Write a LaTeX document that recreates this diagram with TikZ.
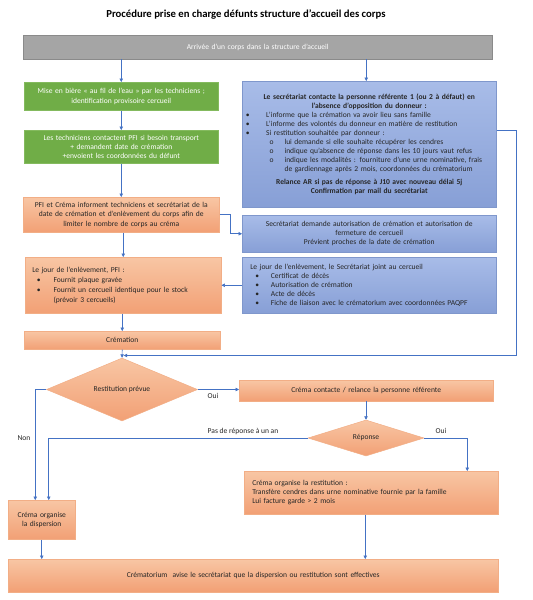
\documentclass[tikz,border=0pt]{standalone}
\usepackage{fontspec}
\setmainfont{Carlito}
\usetikzlibrary{arrows.meta,shapes.geometric,calc}
\definecolor{arrc}{HTML}{4472C4}
\definecolor{grayf}{HTML}{A5A5A5}
\definecolor{grayd}{HTML}{8A8A8A}
\definecolor{greenf}{HTML}{70AD47}
\definecolor{greend}{HTML}{84BA5E}
\definecolor{bluet}{HTML}{A8BCE8}
\definecolor{blueb}{HTML}{879FD6}
\definecolor{blued}{HTML}{7F97CC}
\definecolor{salt}{HTML}{F8C6A4}
\definecolor{salb}{HTML}{F2A075}
\definecolor{sald}{HTML}{F2AE86}
\definecolor{txt}{HTML}{262626}
\newcommand\mybul[2]{\hspace*{#1pt}\makebox[#2pt][l]{\textbullet}}
\newcommand\mysub[2]{\hspace*{#1pt}\makebox[#2pt][l]{o}}
\tikzset{
  bx/.style={draw, line width=0.5pt, inner xsep=0pt, inner ysep=0pt, anchor=north west},
  graybox/.style={bx, fill=grayf, draw=grayd, text=white, align=center},
  greenbox/.style={bx, fill=greenf, draw=greend, text=white, align=center},
  bluebox/.style={bx, top color=bluet, bottom color=blueb, draw=blued, text=txt},
  salbox/.style={bx, top color=salt, bottom color=salb, draw=sald, text=txt},
  dia/.style={diamond, draw=sald, line width=0.5pt, top color=salt, bottom color=salb, inner sep=0pt, text=txt},
  lab/.style={inner sep=0pt, text=txt},
  arr/.style={draw=arrc, line width=0.6pt, -{Triangle[width=3.4pt,length=3.4pt]}},
  ln/.style={draw=arrc, line width=0.6pt}
}
\begin{document}
\begin{tikzpicture}[x=1pt,y=-1pt, font=\fontsize{7.55}{9.2}\selectfont]
\useasboundingbox[fill=white] (0,0) rectangle (533,600);

\node[lab, text=black, font=\fontsize{10.7}{12}\selectfont\bfseries] (title) at (246,15) {Procédure prise en charge défunts structure d’accueil des corps};

\node[graybox, text width=469pt, minimum height=23.5] (g0) at (23,35) {Arrivée d’un corps dans la structure d’accueil};

\node[greenbox, text width=194pt, minimum height=28, font=\fontsize{7.55}{9.6}\selectfont] (g1) at (24,82) {Mise en bière «~au fil de l’eau~» par les techniciens ;\\identification provisoire cercueil};

\node[greenbox, text width=194pt, minimum height=33] (g2) at (24,130) {Les techniciens contactent PFI si besoin transport\\+ demandent date de crémation\\+envoient les coordonnées du défunt};

\node[salbox, align=center, text width=196pt, minimum height=35, font=\fontsize{7.55}{9.3}\selectfont] (s1) at (23,197) {PFI et Créma informent techniciens et secrétariat de la\\date de crémation et d’enlèvement du corps afin de\\limiter le nombre de corps au créma};

\node[salbox, align=left, text width=196pt, minimum height=56, font=\fontsize{7.55}{10}\selectfont] (s2) at (25,257) {\hspace*{7pt}Le jour de l’enlèvement, PFI :\\
\mybul{11.7}{16.6}Fournit plaque gravée\\
\mybul{11.7}{16.6}Fournit un cercueil identique pour le stock\\
\hspace*{28.3pt}(prévoir 3 cercueils)};

\node[salbox, align=center, text width=196pt, minimum height=18] (cr) at (24,331) {Crémation};

\node[bluebox, align=left, text width=254pt, minimum height=126, font=\fontsize{7.55}{9}\selectfont] (b1) at (242,81) {%
\makebox[\linewidth][c]{\bfseries Le secrétariat contacte la personne référente 1 (ou 2 à défaut) en}\\
\makebox[\linewidth][c]{\bfseries l’absence d’opposition du donneur :}\\
\mybul{3.7}{20.3}L’informe que la crémation va avoir lieu sans famille\\
\mybul{3.7}{20.3}L’informe des volontés du donneur en matière de restitution\\
\mybul{3.7}{20.3}Si restitution souhaitée par donneur :\\
\mysub{27.3}{15}lui demande si elle souhaite récupérer les cendres\\
\mysub{27.3}{15}indique qu’absence de réponse dans les 10 jours vaut refus\\
\mysub{27.3}{15}indique les modalités : fourniture d’une urne nominative, frais\\
\hspace*{42.3pt}de gardiennage après 2 mois, coordonnées du crématorium\\[3.4pt]
\makebox[\linewidth][c]{\bfseries Relance AR si pas de réponse à J10 avec nouveau délai 5j}\\
\makebox[\linewidth][c]{\bfseries Confirmation par mail du secrétariat}};

\node[bluebox, align=center, text width=254pt, minimum height=37] (b2) at (242,215) {Secrétariat demande autorisation de crémation et autorisation de\\fermeture de cercueil\\Prévient proches de la date de crémation};

\node[bluebox, align=left, text width=254pt, minimum height=56, font=\fontsize{7.55}{9}\selectfont] (b3) at (242,257) {\hspace*{8pt}Le jour de l’enlèvement, le Secrétariat joint au cercueil\\
\mybul{13}{15.7}Certificat de décès\\
\mybul{13}{15.7}Autorisation de crémation\\
\mybul{13}{15.7}Acte de décès\\
\mybul{13}{15.7}Fiche de liaison avec le crématorium avec coordonnées PAQPF};

\node[dia, minimum width=151, minimum height=45] (d1) at (122,389.5) {Restitution prévue};

\node[salbox, align=center, text width=254pt, minimum height=20.5] (c1) at (239,380) {Créma contacte / relance la personne référente};

\node[dia, minimum width=116, minimum height=36] (d2) at (366,438) {Réponse};

\node[salbox, align=left, text width=254pt, minimum height=43] (rest) at (244,471) {\hspace*{8pt}Créma organise la restitution :\\
\hspace*{8pt}Transfère cendres dans urne nominative fournie par la famille\\
\hspace*{8pt}Lui facture garde > 2 mois};

\node[salbox, align=center, text width=67pt, minimum height=39] (disp) at (8,500) {Créma organise\\la dispersion};

\node[salbox, align=center, text width=490pt, minimum height=32.5] (fin) at (8,559) {Crématorium\ \ avise le secrétariat que la dispersion ou restitution sont effectives};

\node[lab] (oui1) at (213,396) {Oui};
\node[lab] (oui2) at (441,431) {Oui};
\node[lab] (non) at (24,438) {Non};
\node[lab] (pas) at (243,431) {Pas de réponse à un an};

\coordinate (rj) at (516,355.5);

% connectors
\draw[arr] (g1.north |- g0.south) -- (g1.north);
\draw[arr] ([xshift=-3pt]b1.north |- g0.south) -- ([xshift=-3pt]b1.north);
\draw[arr] (g2.north |- g1.south) -- (g2.north);
\draw[arr] (s1.north |- g2.south) -- (s1.north);
\draw[arr] (s1.east) -- ++(11,0) |- (b2.west);
\draw[arr] (s2.north |- s1.south) -- (s2.north);
\draw[arr] (b3.west) -- (b3.west -| s2.east);
\draw[arr] (cr.north |- s2.south) -- (cr.north);
\draw[arr] ([yshift=14pt]b1.east) -- ([yshift=14pt]b1.east -| rj) -- (rj) -- ([xshift=1.5pt]rj -| cr.south);
\draw[arr] (cr.south) -- (d1.north);
\draw[arr] (d1.east) -- (d1.east -| c1.west);
\draw[arr] (d2.north |- c1.south) -- (d2.north);
\draw[arr] (d2.west) -| ([xshift=7pt]disp.north);
\draw[arr] (d1.west) -| ([xshift=-6.5pt]disp.north);
\draw[arr] (d2.east) -| ([xshift=96pt]rest.north);
\draw[arr] (disp.south) -- (disp.south |- fin.north);
\draw[arr] ([xshift=-6pt]rest.south) -- ([xshift=-6pt]rest.south |- fin.north);
\end{tikzpicture}
\end{document}
